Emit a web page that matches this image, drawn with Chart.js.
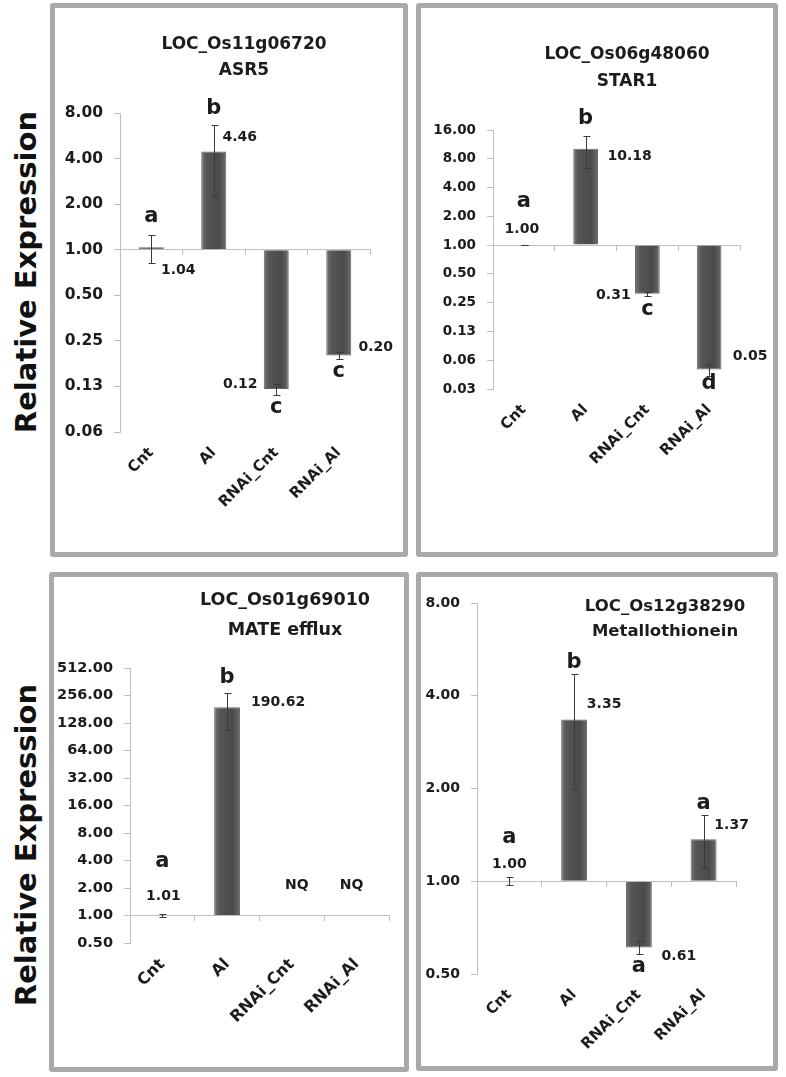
<!DOCTYPE html>
<html>
<head>
<meta charset="utf-8">
<script src="https://cdn.jsdelivr.net/npm/chart.js@4/dist/chart.umd.min.js"></script>
<style>
html,body{margin:0;padding:0;background:#fff;width:786px;height:1077px;overflow:hidden;}
.panel{position:absolute;box-sizing:border-box;border:5px solid #a9a9a9;border-radius:3px;background:#fff;}
.panel canvas{position:absolute;left:0;top:0;}
.ylab{position:absolute;font-family:'DejaVu Sans',sans-serif;font-weight:bold;font-size:29px;color:#111;white-space:nowrap;transform:translate(-50%,-50%) rotate(-90deg);}
</style>
</head>
<body>
<div class="ylab" style="left:26px;top:272px">Relative Expression</div>
<div class="ylab" style="left:26px;top:845px">Relative Expression</div>
<div class="panel" id="p1"><canvas id="c1"></canvas></div>
<div class="panel" id="p2"><canvas id="c2"></canvas></div>
<div class="panel" id="p3"><canvas id="c3"></canvas></div>
<div class="panel" id="p4"><canvas id="c4"></canvas></div>
<script>
// ---------------- DATA ----------------
const categories = ['Cnt', 'Al', 'RNAi_Cnt', 'RNAi_Al'];

const asr5Title = ['LOC_Os11g06720', 'ASR5'];
const asr5Values = [1.04, 4.46, 0.12, 0.20];
const asr5Errors = [0.22, 2.2, 0.01, 0.01];
const asr5Letters = ['a', 'b', 'c', 'c'];
const asr5Ticks = [0.0625, 0.125, 0.25, 0.5, 1, 2, 4, 8];
const asr5TickLabels = ['0.06', '0.13', '0.25', '0.50', '1.00', '2.00', '4.00', '8.00'];

const star1Title = ['LOC_Os06g48060', 'STAR1'];
const star1Values = [1.00, 10.18, 0.31, 0.05];
const star1Errors = [0.005, 3.7, 0.015, 0.007];
const star1Letters = ['a', 'b', 'c', 'd'];
const star1Ticks = [0.03125, 0.0625, 0.125, 0.25, 0.5, 1, 2, 4, 8, 16];
const star1TickLabels = ['0.03', '0.06', '0.13', '0.25', '0.50', '1.00', '2.00', '4.00', '8.00', '16.00'];

const mateTitle = ['LOC_Os01g69010', 'MATE efflux'];
const mateValues = [1.01, 190.62, null, null];
const mateErrors = [0.04, 83, null, null];
const mateLetters = ['a', 'b', '', ''];
const mateNotes = ['', '', 'NQ', 'NQ'];
const mateTicks = [0.5, 1, 2, 4, 8, 16, 32, 64, 128, 256, 512];
const mateTickLabels = ['0.50', '1.00', '2.00', '4.00', '8.00', '16.00', '32.00', '64.00', '128.00', '256.00', '512.00'];

const mtTitle = ['LOC_Os12g38290', 'Metallothionein'];
const mtValues = [1.00, 3.35, 0.61, 1.37];
const mtErrors = [0.03, 1.35, 0.03, 0.27];
const mtLetters = ['a', 'b', 'a', 'a'];
const mtTicks = [0.5, 1, 2, 4, 8];
const mtTickLabels = ['0.50', '1.00', '2.00', '4.00', '8.00'];

// ---------------- LAYOUT / STYLE ----------------
const FONT = "'DejaVu Sans', sans-serif";
const TEXT = '#1c1c1c';
const AXIS = '#bfbfbf';

const specs = [
  {
    canvas: 'c1', panelId: 'p1', panel: {x: 50, y: 3, w: 358, h: 554},
    area: {l: 120, t: 113, r: 370, b: 432},
    title: asr5Title, titleX: 244, titleY: [45, 71], titleSize: 17,
    values: asr5Values, errors: asr5Errors, letters: asr5Letters, notes: null,
    ticks: asr5Ticks, tickLabels: asr5TickLabels, tickSize: 15.5, xSize: 15,
    valueOffsets: [[27, 23], [26, -14], [-36, -5], [37, -8]],
    letterGaps: [-18, -17, 13, 13], noteOffsets: null
  },
  {
    canvas: 'c2', panelId: 'p2', panel: {x: 416, y: 3, w: 362, h: 554},
    area: {l: 493, t: 130, r: 740, b: 389},
    title: star1Title, titleX: 627, titleY: [55, 82], titleSize: 17,
    values: star1Values, errors: star1Errors, letters: star1Letters, notes: null,
    ticks: star1Ticks, tickLabels: star1TickLabels, tickSize: 13.5, xSize: 15,
    valueOffsets: [[-2, -16], [44, 8], [-34, 2], [41, -13]],
    letterGaps: [-43, -17, 14, 8], noteOffsets: null
  },
  {
    canvas: 'c3', panelId: 'p3', panel: {x: 49, y: 572, w: 360, h: 500},
    area: {l: 130, t: 668, r: 389, b: 943},
    title: mateTitle, titleX: 285, titleY: [600, 630], titleSize: 17.5,
    values: mateValues, errors: mateErrors, letters: mateLetters, notes: mateNotes,
    ticks: mateTicks, tickLabels: mateTickLabels, tickSize: 14.5, xSize: 16,
    valueOffsets: [[1, -19], [51, -5], null, null],
    letterGaps: [-52, -15, 0, 0], noteOffsets: [null, null, [5, -30], [-5, -30]]
  },
  {
    canvas: 'c4', panelId: 'p4', panel: {x: 416, y: 572, w: 362, h: 499},
    area: {l: 477, t: 603, r: 736, b: 974},
    title: mtTitle, titleX: 665, titleY: [607, 632], titleSize: 16.5,
    values: mtValues, errors: mtErrors, letters: mtLetters, notes: null,
    ticks: mtTicks, tickLabels: mtTickLabels, tickSize: 14, xSize: 15,
    valueOffsets: [[0, -17], [30, -15], [40, 9], [28, -14]],
    letterGaps: [-40, -12, 12, -12], noteOffsets: null
  }
];

const annotPlugin = {
  id: 'annot',
  afterDatasetsDraw(chart) {
    const s = chart.$spec, o = chart.$origin;
    const ctx = chart.ctx, xs = chart.scales.x, ys = chart.scales.y;
    ctx.save();
    // error bars
    ctx.strokeStyle = '#3a3a3a';
    ctx.lineWidth = 1;
    s.values.forEach((v, i) => {
      if (v == null || s.errors[i] == null) return;
      const x = Math.round(xs.getPixelForValue(i)) + 0.5;
      const yt = Math.round(ys.getPixelForValue(v + s.errors[i])) + 0.5;
      const yb = Math.round(ys.getPixelForValue(v - s.errors[i])) + 0.5;
      ctx.beginPath();
      ctx.moveTo(x, yt); ctx.lineTo(x, yb);
      ctx.moveTo(x - 3, yt); ctx.lineTo(x + 4, yt);
      ctx.moveTo(x - 3, yb); ctx.lineTo(x + 4, yb);
      ctx.stroke();
    });
    ctx.textAlign = 'center';
    ctx.textBaseline = 'middle';
    ctx.fillStyle = TEXT;
    // value labels
    ctx.font = 'bold 14px ' + FONT;
    s.values.forEach((v, i) => {
      if (v == null || !s.valueOffsets[i]) return;
      const off = s.valueOffsets[i];
      ctx.fillText(v.toFixed(2), xs.getPixelForValue(i) + off[0], ys.getPixelForValue(v) + off[1]);
    });
    // notes (NQ)
    if (s.notes) {
      s.notes.forEach((t, i) => {
        if (!t) return;
        const off = s.noteOffsets[i];
        ctx.fillText(t, xs.getPixelForValue(i) + off[0], ys.getPixelForValue(1) + off[1]);
      });
    }
    // significance letters
    ctx.font = 'bold 21px ' + FONT;
    s.letters.forEach((t, i) => {
      const v = s.values[i];
      if (!t || v == null) return;
      const g = s.letterGaps[i];
      const y = g < 0 ? ys.getPixelForValue(v + s.errors[i]) + g : ys.getPixelForValue(v - s.errors[i]) + g;
      ctx.fillText(t, xs.getPixelForValue(i), y);
    });
    // title
    ctx.font = 'bold ' + s.titleSize + 'px ' + FONT;
    s.title.forEach((t, k) => {
      ctx.fillText(t, s.titleX - o.x, s.titleY[k] - o.y);
    });
    ctx.restore();
  }
};

function barFill(ctx) {
  const ch = ctx.chart, xs = ch.scales && ch.scales.x;
  if (!xs || ctx.dataIndex === undefined || !isFinite(xs.width)) return '#555';
  const cx = xs.getPixelForValue(ctx.dataIndex);
  const hw = xs.width / categories.length * 0.4 / 2;
  const g = ch.ctx.createLinearGradient(cx - hw, 0, cx + hw, 0);
  g.addColorStop(0, '#767676');
  g.addColorStop(0.2, '#565656');
  g.addColorStop(0.7, '#4a4a4a');
  g.addColorStop(1, '#6a6a6a');
  return g;
}

specs.forEach(s => {
  const pd = document.getElementById(s.panelId);
  pd.style.left = s.panel.x + 'px';
  pd.style.top = s.panel.y + 'px';
  pd.style.width = s.panel.w + 'px';
  pd.style.height = s.panel.h + 'px';
  const W = s.panel.w - 10, H = s.panel.h - 10;
  const o = {x: s.panel.x + 5, y: s.panel.y + 5};
  const cv = document.getElementById(s.canvas);
  cv.width = W; cv.height = H;
  cv.style.width = W + 'px'; cv.style.height = H + 'px';
  const aL = s.area.l - o.x, aT = s.area.t - o.y, aR = s.area.r - o.x, aB = s.area.b - o.y;
  new Chart(cv, {
    type: 'bar',
    data: {
      labels: categories,
      datasets: [{
        data: s.values,
        base: 1,
        backgroundColor: barFill,
        borderColor: '#666666',
        borderWidth: 1,
        barPercentage: 0.4,
        categoryPercentage: 1,
        xAxisID: 'x',
        yAxisID: 'y'
      }]
    },
    options: {
      responsive: false,
      animation: false,
      devicePixelRatio: 1,
      layout: {padding: {top: aT, right: W - aR, left: 0, bottom: 0}},
      plugins: {legend: {display: false}, tooltip: {enabled: false}, title: {display: false}},
      scales: {
        x: {
          type: 'category', position: 'bottom', offset: true,
          grid: {display: false, drawTicks: false},
          border: {display: false},
          ticks: {minRotation: 45, maxRotation: 45, autoSkip: false, padding: 12,
                  font: {family: FONT, size: s.xSize, weight: 'bold'}, color: TEXT},
          afterFit(sc) { sc.height = H - aB; }
        },
        xb: {
          type: 'category', axis: 'x', position: {y: 1}, offset: true,
          grid: {offset: true, drawOnChartArea: false, drawTicks: true, tickLength: 5, color: AXIS},
          border: {display: true, color: AXIS, width: 1},
          ticks: {display: false}
        },
        y: {
          type: 'logarithmic', position: 'left',
          min: s.ticks[0], max: s.ticks[s.ticks.length - 1],
          afterBuildTicks(sc) { sc.ticks = s.ticks.map(v => ({value: v})); },
          ticks: {callback: (v, i) => s.tickLabels[i], padding: 11,
                  font: {family: FONT, size: s.tickSize, weight: 'bold'}, color: TEXT},
          grid: {drawOnChartArea: false, drawTicks: true, tickLength: 6, color: AXIS},
          border: {display: true, color: AXIS, width: 1},
          afterFit(sc) { sc.width = aL; }
        }
      }
    },
    plugins: [{id: 'specHolder', beforeInit(c) { c.$spec = s; c.$origin = o; }}, annotPlugin]
  });
});
</script>
</body>
</html>
